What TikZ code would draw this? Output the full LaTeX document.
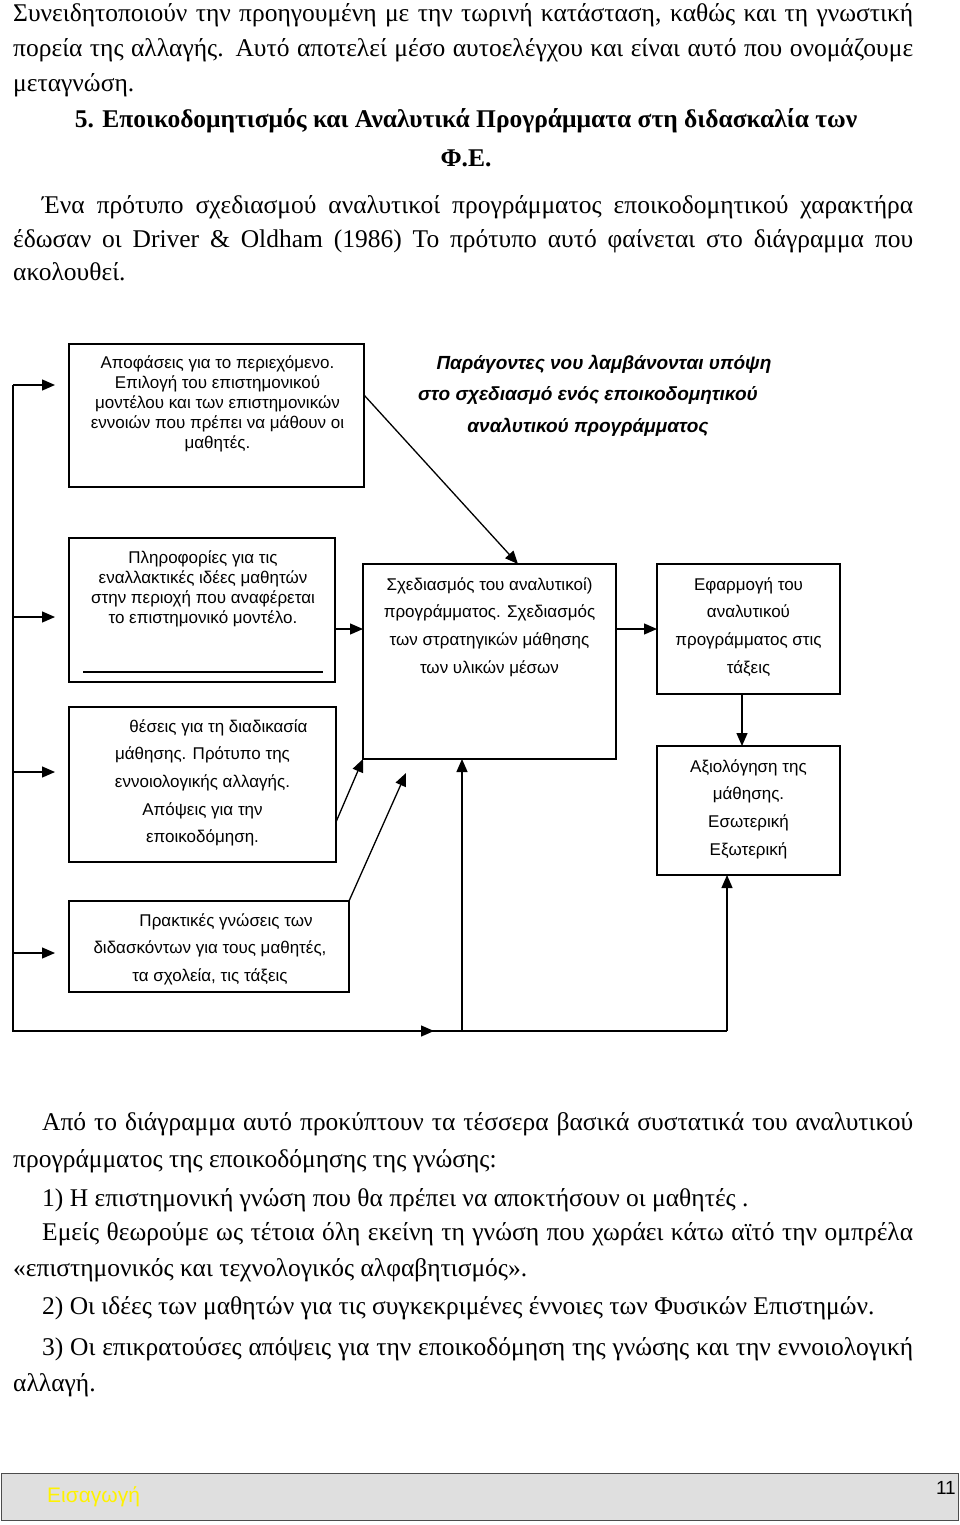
\documentclass[tikz,border=0pt]{standalone}
\usepackage{fontspec}
\setmainfont{Liberation Serif}
\newfontfamily\arial{Liberation Sans}
\usetikzlibrary{arrows.meta,calc}
\begin{document}
\begin{tikzpicture}[x=1pt,y=-1pt,
  box/.style={draw, line width=1.3pt, inner sep=0pt, outer sep=0pt, anchor=north west},
  txa/.style={font=\arial\fontsize{17}{20}\selectfont, align=center, inner sep=0pt, anchor=north},
  txb/.style={font=\arial\fontsize{17}{27.7}\selectfont, align=center, inner sep=0pt, anchor=north},
  ttl/.style={font=\arial\bfseries\itshape\fontsize{19}{31.5}\selectfont, align=center, inner sep=0pt, anchor=north},
  ln/.style={line width=1.3pt},
  arr/.style={line width=1.3pt, -{Triangle[length=13pt,width=11pt]}},
  body/.style={font=\fontsize{25.5}{30}\selectfont, inner sep=0pt, anchor=base west},
  bodyb/.style={font=\bfseries\fontsize{25.5}{30}\selectfont, inner sep=0pt, anchor=base}
]
\useasboundingbox (0,0) rectangle (960,1525);

% ---------- body text, top ----------
\node[body] (t1) at (13,22) {\makebox[900pt][s]{Συνειδητοποιούν την προηγουμένη με την τωρινή κατάσταση, καθώς και τη γνωστική}};
\node[body] (t2) at (13,57) {\makebox[900pt][s]{πορεία της αλλαγής. Αυτό αποτελεί μέσο αυτοελέγχου και είναι αυτό που ονομάζουμε}};
\node[body] (t3) at (13,92) {μεταγνώση.};
\node[bodyb] (h1) at (466,128) {5. Εποικοδομητισμός και Αναλυτικά Προγράμματα στη διδασκαλία των};
\node[bodyb] (h2) at (466,167) {Φ.Ε.};
\node[body] (t4) at (42,214) {\makebox[871pt][s]{Ένα πρότυπο σχεδιασμού αναλυτικοί προγράμματος εποικοδομητικού χαρακτήρα}};
\node[body] (t5) at (13,247) {\makebox[900pt][s]{έδωσαν οι Driver \& Oldham (1986) Το πρότυπο αυτό φαίνεται στο διάγραμμα που}};
\node[body] (t6) at (13,280) {ακολουθεί.};

% ---------- boxes ----------
\node[box, minimum width=295pt, minimum height=143pt] (A) at (69,344) {};
\node[box, minimum width=266pt, minimum height=144pt] (P) at (69,538) {};
\node[box, minimum width=253pt, minimum height=195pt] (B) at (363,564) {};
\node[box, minimum width=183pt, minimum height=130pt] (E) at (657,564) {};
\node[box, minimum width=183pt, minimum height=129pt] (X) at (657,746) {};
\node[box, minimum width=267pt, minimum height=155pt] (C) at (69,707) {};
\node[box, minimum width=280pt, minimum height=91pt] (D) at (69,901) {};

% ---------- box texts ----------
\node[txa] (Atx) at ($(A.north)+(1,11)$) {Αποφάσεις για το περιεχόμενο.\\ Επιλογή του επιστημονικού\\ μοντέλου και των επιστημονικών\\ εννοιών που πρέπει να μάθουν οι\\ μαθητές.};
\node[ttl] (T) at (588,355) {\hspace*{32pt}Παράγοντες νου λαμβάνονται υπόψη\\ στο σχεδιασμό ενός εποικοδομητικού\\ αναλυτικού προγράμματος};
\node[txa] (Ptx) at ($(P.north)+(1,12)$) {Πληροφορίες για τις\\ εναλλακτικές ιδέες μαθητών\\ στην περιοχή που αναφέρεται\\ το επιστημονικό μοντέλο.};
\draw[ln] ($(P.south west)+(14,-10)$) coordinate (u1) -- ($(P.south east)+(-12,-10)$) coordinate (u2);
\node[txb] (Btx) at ($(B.north)+(0,13)$) {Σχεδιασμός του αναλυτικοί)\\ προγράμματος. Σχεδιασμός\\ των στρατηγικών μάθησης\\ των υλικών μέσων};
\node[txb] (Etx) at ($(E.north)+(0,13)$) {Εφαρμογή του\\ αναλυτικού\\ προγράμματος στις\\ τάξεις};
\node[txb] (Xtx) at ($(X.north)+(0,13)$) {Αξιολόγηση της\\ μάθησης.\\ Εσωτερική\\ Εξωτερική};
\node[txb] (Ctx) at ($(C.north)+(0,12)$) {\hspace*{32pt}θέσεις για τη διαδικασία\\ μάθησης. Πρότυπο της\\ εννοιολογικής αλλαγής.\\ Απόψεις για την\\ εποικοδόμηση.};
\node[txb] (Dtx) at ($(D.north)+(1,12)$) {\hspace*{32pt}Πρακτικές γνώσεις των\\ διδασκόντων για τους μαθητές,\\ τα σχολεία, τις τάξεις};

% ---------- connectors ----------
\coordinate (tl) at (13,385);
\coordinate (bl) at (13,1031);
\coordinate (bm) at (462,1031);
\coordinate (br) at (727,1031);
\coordinate (bmid) at (434,1031);
\draw[ln] (tl) -- (bl) -- (br);
\draw[arr] (bl) -- (bmid);
\draw[arr] (tl) -- ($(A.north west)+(-14,41)$);
\draw[arr] (tl |- 0,617) -- ($(P.north west)+(-14,79)$);
\draw[arr] (tl |- 0,772) -- ($(C.north west)+(-14,65)$);
\draw[arr] (tl |- 0,953) -- ($(D.north west)+(-14,52)$);
\draw[arr] (bm) -- (bm |- B.south);
\draw[arr] (br) -- (br |- X.south);

\draw[arr] ($(A.north east)+(0,51)$) -- ($(B.north west)+(155,0)$);
\draw[arr] ($(P.north west)+(266,91)$) -- ($(B.north west)+(0,65)$);
\draw[arr] ($(B.north east)+(0,65)$) -- ($(E.north west)+(0,65)$);
\draw[arr] ($(E.south west)+(85,0)$) -- ($(X.north west)+(85,0)$);
\draw[arr] ($(C.north east)+(0,115)$) -- (B.south west);
\draw[arr] (D.north east) -- ($(B.south west)+(43,14)$);

% ---------- body text, bottom ----------
\node[body] (b1) at (42,1130) {\makebox[871pt][s]{Από το διάγραμμα αυτό προκύπτουν τα τέσσερα βασικά συστατικά του αναλυτικού}};
\node[body] (b2) at (13,1167) {προγράμματος της εποικοδόμησης της γνώσης:};
\node[body] (b3) at (42,1206) {1) Η επιστημονική γνώση που θα πρέπει να αποκτήσουν οι μαθητές .};
\node[body] (b4) at (42,1240) {\makebox[871pt][s]{Εμείς θεωρούμε ως τέτοια όλη εκείνη τη γνώση που χωράει κάτω αϊτό την ομπρέλα}};
\node[body] (b5) at (13,1276) {«επιστημονικός και τεχνολογικός αλφαβητισμός».};
\node[body] (b6) at (42,1314) {2) Οι ιδέες των μαθητών για τις συγκεκριμένες έννοιες των Φυσικών Επιστημών.};
\node[body] (b7) at (42,1355) {\makebox[871pt][s]{3) Οι επικρατούσες απόψεις για την εποικοδόμηση της γνώσης και την εννοιολογική}};
\node[body] (b8) at (13,1391) {αλλαγή.};

% ---------- footer ----------
\node[box, draw=gray!60!black, line width=1pt, fill=gray!25, minimum width=957pt, minimum height=47pt] (foot) at (1,1473) {};
\node[anchor=west, inner sep=0pt, text=yellow, font=\arial\fontsize{21}{24}\selectfont] (fl) at (47,1497) {Εισαγωγή};
\node[anchor=east, inner sep=0pt, font=\arial\fontsize{19}{20}\selectfont] (fn) at (956,1488) {11};
\end{tikzpicture}
\end{document}
